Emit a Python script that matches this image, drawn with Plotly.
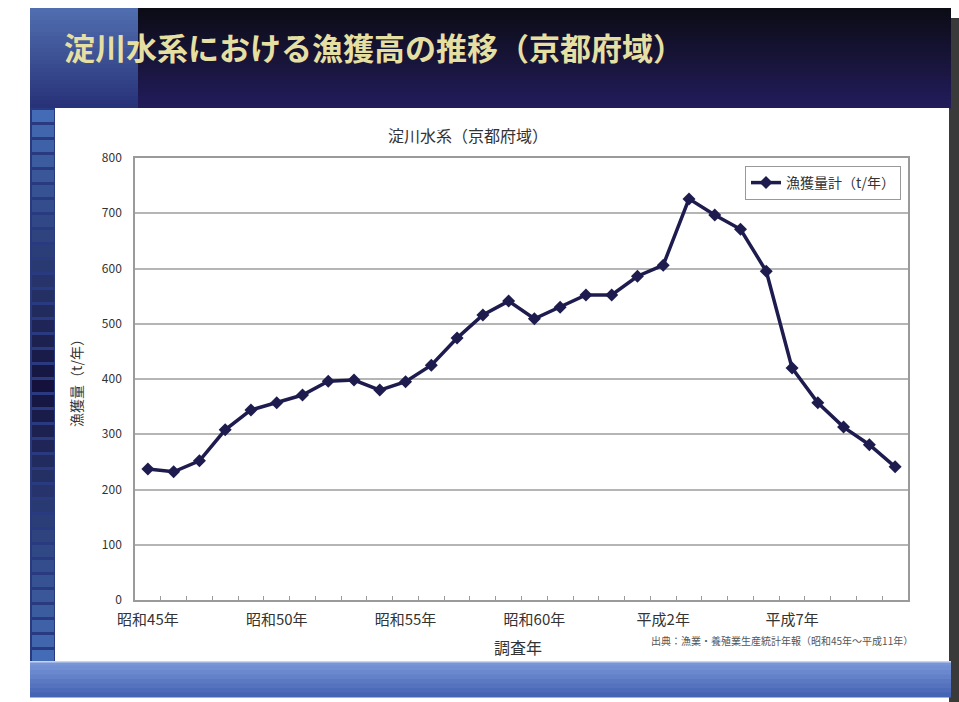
import plotly.graph_objects as go

# Annual catch, Yodo River system (Kyoto Prefecture section), 1970-1999
years = list(range(1970, 2000))
catch_t = [237, 232, 252, 308, 344, 357, 371, 396, 398, 380,
           395, 425, 474, 516, 541, 509, 530, 552, 552, 586,
           606, 726, 697, 671, 595, 420, 357, 313, 281, 241]
tick_years = [1970, 1975, 1980, 1985, 1990, 1995]
tick_labels = ["昭和45年", "昭和50年", "昭和55年", "昭和60年", "平成2年", "平成7年"]
y_ticks = list(range(0, 801, 100))

W, H = 959, 702
ML, MR, MT, MB = 135, 51, 158, 102
PW, PH = W - ML - MR, H - MT - MB
FONT = "Noto Sans CJK JP"


def px(x):
    return (x - ML) / PW


def py(y):
    return (H - MB - y) / PH


def rect(x0, y0, x1, y1, color, layer="below"):
    return dict(type="rect", xref="paper", yref="paper",
                x0=px(x0), x1=px(x1), y0=py(y1), y1=py(y0),
                fillcolor=color, line=dict(width=0), layer=layer)


def mix(c1, c2, t):
    return "#" + "".join(f"{round(a + (b - a) * t):02x}" for a, b in zip(c1, c2))


def note(text, x, y, size, color, xanchor="center", angle=0):
    return dict(text=text, xref="paper", yref="paper", x=px(x), y=py(y),
                xanchor=xanchor, yanchor="middle", showarrow=False,
                textangle=angle, font=dict(family=FONT, size=size, color=color))


shapes = []
# drop shadow on the right
shapes.append(rect(949, 18, 959, 702, "#3a3a3a"))
# title banner: vertical gradient, dark on top to navy-purple
n = 25
for i in range(n):
    y0 = 8 + i * 100 / n
    shapes.append(rect(30, y0, 951, y0 + 100 / n + 0.5,
                       mix((12, 12, 22), (34, 28, 90), i / (n - 1))))
    shapes.append(rect(30, y0, 138, y0 + 100 / n + 0.5,
                       mix((80, 110, 175), (40, 50, 120), i / (n - 1))))
# left strip of squares
shapes.append(rect(30, 108, 56, 662, "#2a3a80"))
sq = 15
y = 110
while y < 655:
    t = abs((y - 380) / 280)
    c = mix((20, 18, 60), (70, 110, 185), min(t, 1))
    shapes.append(rect(32, y, 54, y + sq - 3, c))
    y += sq
# white content panel
shapes.append(rect(55, 108, 949, 661, "#ffffff"))
# bottom band
for i in range(8):
    y0 = 661 + i * 36 / 8
    shapes.append(rect(30, y0, 951, y0 + 36 / 8 + 0.5,
                       mix((120, 150, 215), (70, 100, 180), i / 7)))
shapes.append(rect(30, 661, 951, 662.5, "#c8d4ee"))

fig = go.Figure()
fig.add_trace(go.Scatter(
    x=years, y=catch_t, mode="lines+markers", name="漁獲量計（t/年）",
    line=dict(color="#1e1c4e", width=3.5),
    marker=dict(symbol="diamond", size=10, color="#1e1c4e"),
))

annotations = [
    note("<b>淀川水系における漁獲高の推移（京都府域）</b>", 62, 46, 31,
         "#e6dfa2", xanchor="left"),
    note("淀川水系（京都府域）", 468, 135, 16, "#333333"),
    note("漁獲量（t/年）", 76, 380, 14, "#333333", angle=-90),
    note("調査年", 518, 647, 16, "#333333"),
    note("出典：漁業・養殖業生産統計年報（昭和45年～平成11年）", 915, 640, 10,
         "#555555", xanchor="right"),
]

fig.update_layout(
    width=W, height=H,
    margin=dict(l=ML, r=MR, t=MT, b=MB),
    paper_bgcolor="#ffffff", plot_bgcolor="#ffffff",
    font=dict(family=FONT, color="#333333"),
    shapes=shapes, annotations=annotations,
    showlegend=True,
    legend=dict(x=px(901), y=py(166), xanchor="right", yanchor="top",
                bgcolor="#ffffff", bordercolor="#999999", borderwidth=1,
                font=dict(family=FONT, size=14, color="#333333")),
    xaxis=dict(range=[1969.5, 1999.5], tickmode="array",
               tickvals=tick_years, ticktext=tick_labels, ticks="",
               ticklabelstandoff=5,
               showgrid=False, zeroline=False,
               showline=True, linecolor="#9a9a9a", linewidth=1.5, mirror=True,
               tickfont=dict(family=FONT, size=15, color="#333333"),
               minor=dict(tickmode="array",
                          tickvals=[v + 0.5 for v in years[:-1]],
                          ticks="inside", ticklen=4, tickcolor="#9a9a9a",
                          showgrid=False)),
    yaxis=dict(range=[0, 800], tickmode="array", tickvals=y_ticks,
               showgrid=True, gridcolor="#b5b5b5", gridwidth=1.5,
               zeroline=False, showline=True, linecolor="#9a9a9a",
               linewidth=1.5, mirror=True, ticks="", ticklabelstandoff=9,
               tickfont=dict(family=FONT, size=12, color="#333333")),
)

fig.write_html("out.html")
